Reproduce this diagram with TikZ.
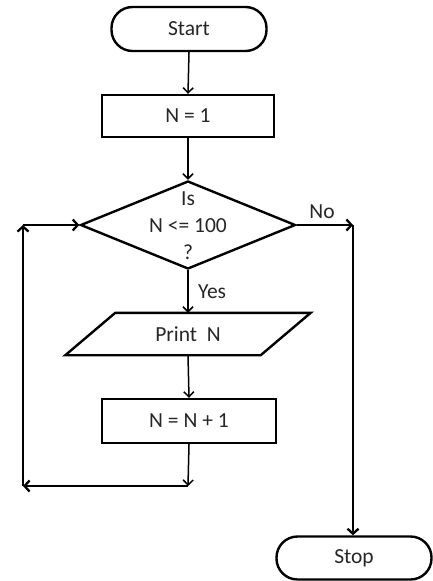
\documentclass[tikz,border=0pt]{standalone}
\usepackage{fontspec}
\setmainfont{Carlito}
\usetikzlibrary{arrows.meta,shapes.geometric}
\begin{document}
\begin{tikzpicture}[x=1pt,y=-1pt,
  font=\fontsize{21.5}{27}\selectfont,
  every node/.style={text=black!85},
  boxline/.style={draw=black, line width=2.4pt},
  term/.style={boxline, rectangle, rounded corners=21pt, minimum width=155pt, minimum height=44pt, inner sep=0pt},
  procbox/.style={boxline, rectangle, minimum width=172pt, minimum height=42pt, inner sep=0pt},
  decbox/.style={boxline, diamond, minimum width=215pt, minimum height=88pt, inner sep=0pt},
  thinarrow/.style={draw=black, line width=1.5pt, -{Straight Barb[length=5pt,width=10pt]}},
  thickarrow/.style={draw=black, line width=2.3pt, -{Straight Barb[length=5pt,width=11pt]}},
  thickline/.style={draw=black, line width=2.3pt}
]
\useasboundingbox (0,0) rectangle (433,581);

\node[term] (start) at (189,29) {Start};
\node[procbox] (n1) at (188,116) {N = 1};
\node[decbox] (dec) at (188,225) {};
\node[align=center, inner sep=0pt] (dectext) at (188,226) {Is\\N <= 100\\?};
\node[minimum width=195pt, minimum height=42pt, inner sep=0pt] (print) at (188,334) {Print\ \ N};
\draw[boxline] ([xshift=25pt]print.north west) -- ([xshift=25pt]print.north east)
  -- ([xshift=-25pt]print.south east) -- ([xshift=-25pt]print.south west) -- cycle;
\node[procbox, minimum width=174pt, minimum height=44pt] (n2) at (189,421) {N = N + 1};
\node[term, minimum height=43pt] (stop) at (354,558) {Stop};

\coordinate (j1) at (188,486);
\coordinate (c1) at (23,486);
\coordinate (c2) at (23,225);
\coordinate (c3) at (353,225);

\draw[thinarrow] (start.south) -- (n1.north);
\draw[thinarrow] (n1.south) -- (dec.north);
\draw[thinarrow] (dec.south) -- (print.north) node[pos=0.5, right=6pt] (yes) {Yes};
\draw[thinarrow] (print.south) -- (n2.north);
\draw[thinarrow] (n2.south) -- (j1);
\draw[thickarrow] (j1) -- (c1);
\draw[thickarrow] (c1) -- (c2);
\draw[thickarrow] (c2) -- (dec.west);
\draw[thickarrow] (dec.east) -- (c3) node[pos=0.45, above=2pt] (no) {No};
\draw[thickarrow] (c3) -- (c3 |- stop.north);
\end{tikzpicture}
\end{document}
